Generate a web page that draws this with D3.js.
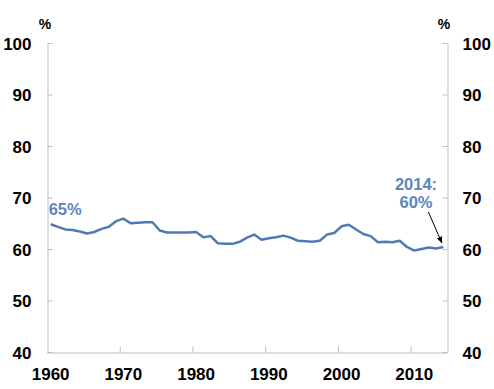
<!DOCTYPE html>
<head>
<meta charset="utf-8">
<script src="https://d3js.org/d3.v7.min.js"></script>
<style>
body { margin: 0; background: white; font-family: 'Liberation Sans', Arial, sans-serif; }
.axis path, .axis line { stroke: #bfbfbf; stroke-width: 1; }
.axis text { font-size: 17px; font-weight: bold; fill: #000; }
.unit { font-size: 14px; font-weight: bold; fill: #000; }
.note { font-size: 16.5px; font-weight: bold; fill: #5b86c0; }
.series { fill: none; stroke: #4f7bb5; stroke-width: 2.5; stroke-linejoin: round; }
</style>
</head>
<body>
<div id="chart"></div>
<script>

var years = d3.range(1960, 2015);
var values = [
  64.8, 64.3, 63.8, 63.7, 63.4, 63.0, 63.3, 63.9, 64.3, 65.4,
  65.9, 65.0, 65.1, 65.2, 65.2, 63.6, 63.2, 63.2, 63.2, 63.2,
  63.3, 62.3, 62.5, 61.1, 61.0, 61.0, 61.4, 62.2, 62.8, 61.8,
  62.1, 62.3, 62.6, 62.2, 61.6, 61.5, 61.4, 61.6, 62.8, 63.1,
  64.4, 64.7, 63.8, 62.9, 62.5, 61.3, 61.4, 61.3, 61.6, 60.4,
  59.7, 60.0, 60.3, 60.1, 60.4
];
var yTicks = [40, 50, 60, 70, 80, 90, 100];
var xLabels = [1960, 1970, 1980, 1990, 2000, 2010];
var xTickMarks = [1969.5, 1979.5, 1989.5, 1999.5, 2009.5];

var width = 494, height = 389;
var plotLeft = 47, plotRight = 447, plotTop = 43, plotBottom = 352;

var svg = d3.select("#chart").append("svg")
    .attr("width", width)
    .attr("height", height);

var x = d3.scaleLinear().domain([1959.5, 2014.5]).range([plotLeft, plotRight]);
var y = d3.scaleLinear().domain([40, 100]).range([plotBottom, plotTop]);

// axes (ticks point inward)
svg.append("g")
    .attr("class", "axis")
    .attr("transform", "translate(" + (plotLeft + 0.5) + ",0)")
    .call(d3.axisLeft(y).tickValues(yTicks).tickSize(-5).tickSizeOuter(0).tickPadding(16));

svg.append("g")
    .attr("class", "axis")
    .attr("transform", "translate(" + (plotRight + 0.5) + ",0)")
    .call(d3.axisRight(y).tickValues(yTicks).tickSize(-5).tickSizeOuter(0).tickPadding(15));

svg.append("g")
    .attr("class", "axis")
    .attr("transform", "translate(0," + (plotBottom + 0.5) + ")")
    .call(d3.axisBottom(x).tickValues(xTickMarks).tickSize(-6).tickSizeOuter(0).tickFormat(""));

svg.selectAll(".axis text").attr("dy", "0.36em");

// year labels sit in the middle of each category
svg.append("g").selectAll("text")
    .data(xLabels)
    .enter()
    .append("text")
    .attr("x", function(d) { return x(d); })
    .attr("y", 380)
    .attr("text-anchor", "middle")
    .style("font-size", "17px")
    .style("font-weight", "bold")
    .text(function(d) { return d; });

svg.append("text").attr("class", "unit").attr("x", plotLeft - 2).attr("y", 29)
    .attr("text-anchor", "middle").text("%");
svg.append("text").attr("class", "unit").attr("x", plotRight - 3).attr("y", 29)
    .attr("text-anchor", "middle").text("%");

var line = d3.line()
    .x(function(d, i) { return x(years[i]); })
    .y(function(d) { return y(d); });

svg.append("path")
    .datum(values)
    .attr("class", "series")
    .attr("d", line);

// annotations
svg.append("text").attr("class", "note")
    .attr("x", x(years[0]) - 2).attr("y", 215)
    .text(Math.round(values[0]) + "%");

var lastX = x(years[years.length - 1]), lastY = y(values[values.length - 1]);

svg.append("text").attr("class", "note")
    .attr("x", 416).attr("y", 190).attr("text-anchor", "middle")
    .text(years[years.length - 1] + ":");
svg.append("text").attr("class", "note")
    .attr("x", 416).attr("y", 208).attr("text-anchor", "middle")
    .text(Math.round(values[values.length - 1]) + "%");

svg.append("defs").append("marker")
    .attr("id", "head")
    .attr("viewBox", "0 0 10 10")
    .attr("refX", 9).attr("refY", 5)
    .attr("markerWidth", 7).attr("markerHeight", 7)
    .attr("orient", "auto")
  .append("path")
    .attr("d", "M0,1 L10,5 L0,9 Z")
    .attr("fill", "#000");

svg.append("line")
    .attr("x1", lastX - 15).attr("y1", lastY - 35)
    .attr("x2", lastX - 1.5).attr("y2", lastY - 4)
    .attr("stroke", "#000")
    .attr("stroke-width", 1)
    .attr("marker-end", "url(#head)");

</script>
</body>
